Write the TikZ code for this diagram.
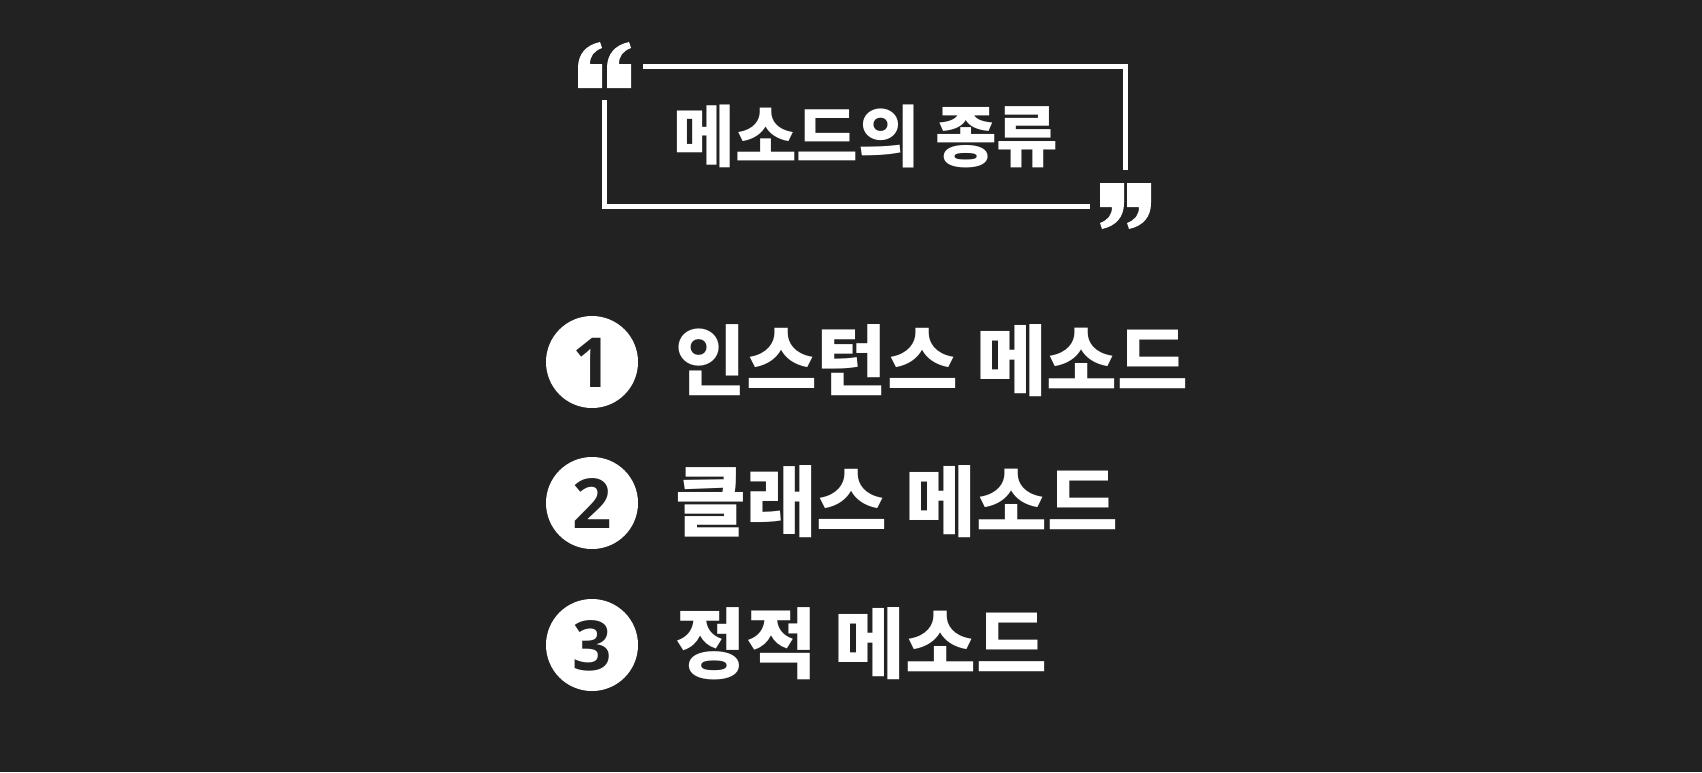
\documentclass[tikz,border=0pt]{standalone}
\usepackage{fontspec}
\newfontfamily\kr{Noto Sans CJK KR}
\newfontfamily\numfont{Open Sans}
\definecolor{bg}{HTML}{222222}
\begin{document}
\begin{tikzpicture}[x=1pt,y=-1pt,
  frame/.style={draw=white, line width=5pt},
  qopen/.pic={\fill[white] (0,46) -- (24,46) -- (24,22) -- (12,22)
      .. controls (12,14) and (16,9) .. (24,6) -- (22,0)
      .. controls (8,3) and (0,12) .. (0,26) -- cycle;},
  titletext/.style={text=white, font=\kr\bfseries\fontsize{67}{75}\selectfont, inner sep=0pt, anchor=base},
  itemtext/.style={text=white, font=\kr\bfseries\fontsize{77}{85}\selectfont, inner sep=0pt, anchor=base west},
  numc/.style={circle, fill=white, minimum size=92pt, inner sep=0pt, text=bg,
      font=\numfont\bfseries\fontsize{69}{72}\selectfont, text height=50pt, text depth=0pt}]
\fill[bg] (0,0) rectangle (1702,772);
\useasboundingbox (0,0) rectangle (1702,772);
% frame
\draw[frame] (643,66) -- (1125,66) -- (1125,170);
\draw[frame] (604,100) -- (604,206) -- (1090,206);
% quote marks
\pic at (578,42) {qopen};
\pic at (607,42) {qopen};
\pic[shift={(1124,229)}, rotate=180] {qopen};
\pic[shift={(1151,229)}, rotate=180] {qopen};
% title
\node[titletext] (title) at (866,161) {메소드의 종류};
% items
\node[numc] (c1) at (592,362) {1};
\node[numc] (c2) at (592,503) {2};
\node[numc] (c3) at (592,645) {3};
\node[itemtext] (i1) at (675,389) {인스턴스 메소드};
\node[itemtext] (i2) at (675,530) {클래스 메소드};
\node[itemtext] (i3) at (675,672) {정적 메소드};
\end{tikzpicture}
\end{document}
